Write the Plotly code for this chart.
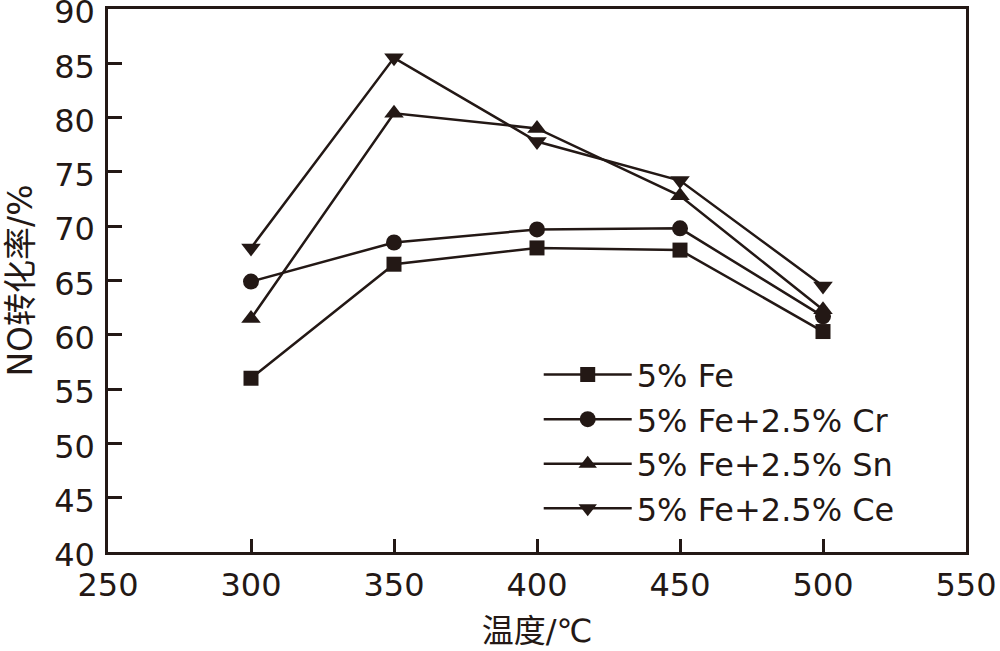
import plotly.graph_objects as go

temps = [300, 350, 400, 450, 500]
fe = [56.0, 66.5, 68.0, 67.8, 60.3]
fe_cr = [64.9, 68.5, 69.7, 69.8, 61.7]
fe_sn = [61.5, 80.4, 79.0, 72.8, 62.3]
fe_ce = [68.0, 85.5, 77.8, 74.2, 64.5]

names = ["5% Fe", "5% Fe+2.5% Cr", "5% Fe+2.5% Sn", "5% Fe+2.5% Ce"]
series = [fe, fe_cr, fe_sn, fe_ce]
symbols = ["square", "circle", "triangle-up", "triangle-down"]
sizes = [15, 16, 17, 17]

C = "#231815"
FONT = "DejaVu Sans, Liberation Sans, Noto Sans CJK SC"
CJK = "DejaVu Sans, Noto Sans CJK SC"

fig = go.Figure()
for n, s, sym, sz in zip(names, series, symbols, sizes):
    fig.add_trace(go.Scatter(
        x=temps, y=s, name=n, mode="lines+markers",
        line=dict(color=C, width=2.5),
        marker=dict(symbol=sym, size=sz, color=C),
    ))

fig.update_layout(
    width=1000, height=651,
    margin=dict(l=108, r=34, t=9, b=99),
    plot_bgcolor="white", paper_bgcolor="white",
    font=dict(family=FONT, size=32, color=C),
    showlegend=True,
    legend=dict(
        x=0.502, y=0.203, xanchor="left", yanchor="middle",
        bgcolor="rgba(0,0,0,0)", itemwidth=88,
        font=dict(size=32, family=FONT, color=C),
        tracegroupgap=0, itemsizing="trace",
    ),
    xaxis=dict(
        range=[250, 550], tickvals=[250, 300, 350, 400, 450, 500, 550],
        ticks="inside", ticklen=13, tickwidth=2.5, tickcolor=C,
        showline=True, linecolor=C, linewidth=2.5, mirror=True,
        showgrid=False, zeroline=False, automargin=False, ticklabeloverflow="allow",
        ticklabelstandoff=3,
        title=dict(text="温度/℃", font=dict(size=32, family=CJK, color=C), standoff=17),
    ),
    yaxis=dict(
        range=[40, 90], tickvals=[40, 45, 50, 55, 60, 65, 70, 75, 80, 85, 90],
        ticks="inside", ticklen=14, tickwidth=2.5, tickcolor=C,
        showline=True, linecolor=C, linewidth=2.5, mirror=True,
        showgrid=False, zeroline=False, automargin=False, ticklabelstandoff=4,
        ticklabelshift=3, ticklabeloverflow="allow",
        title=dict(text="NO转化率/%", font=dict(size=33, family=CJK, color=C), standoff=12),
    ),
)

fig.write_html("out.html", config={"displayModeBar": False},
               post_script="document.body.style.margin='0';")
